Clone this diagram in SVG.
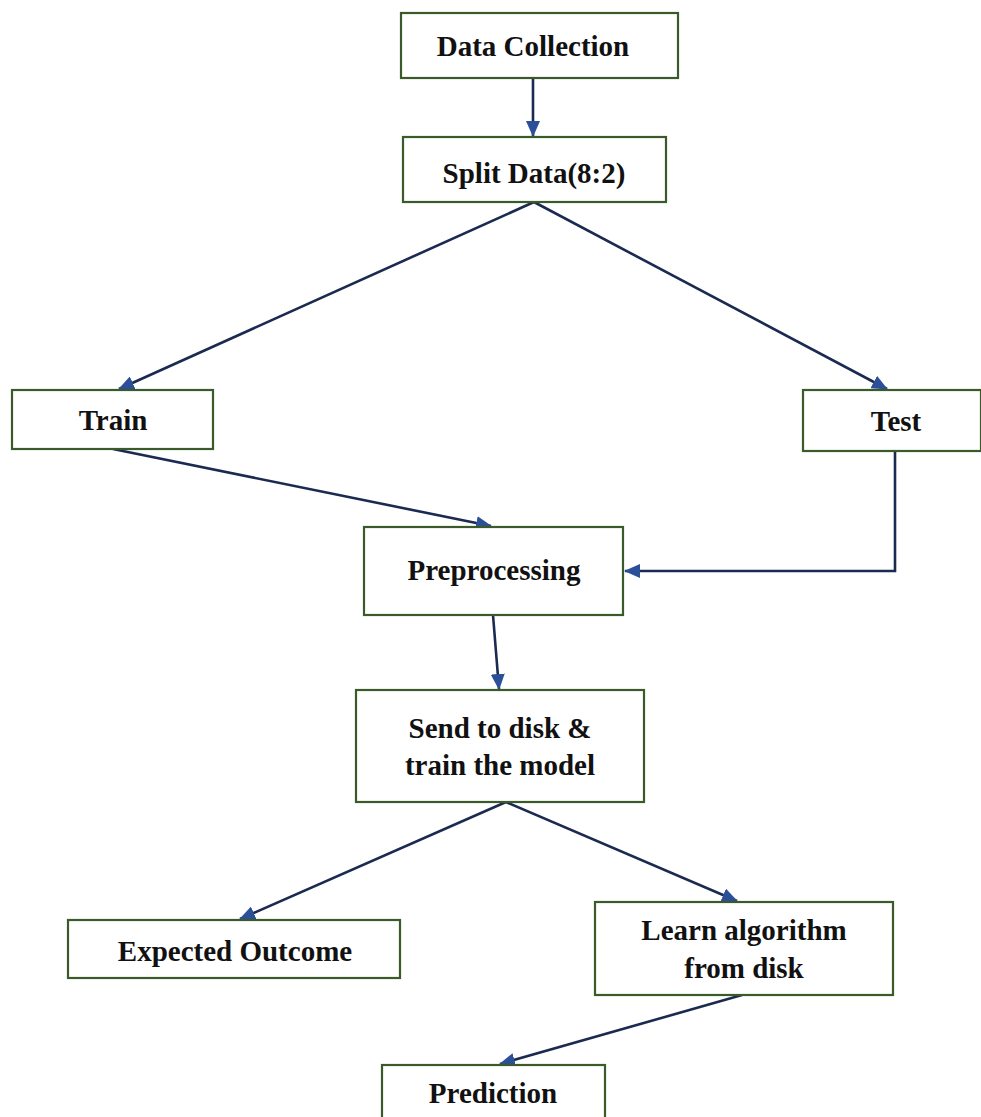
<svg xmlns="http://www.w3.org/2000/svg" width="981" height="1117" viewBox="0 0 981 1117">
  <style>
    .box { fill: #ffffff; stroke: #3b5a2a; stroke-width: 2.2; }
    .lbl { font-family: "Liberation Serif", "Times New Roman", serif; font-weight: bold; font-size: 29px; fill: #111111; text-anchor: middle; }
    .conn { fill: none; stroke: #1b2a50; stroke-width: 2.6; }
  </style>
  <defs>
    <marker id="arrow" markerUnits="userSpaceOnUse" markerWidth="16" markerHeight="14" refX="15" refY="7" orient="auto">
      <path d="M0,0 L16,7 L0,14 Z" fill="#2c4f99"/>
    </marker>
  </defs>
  <rect width="981" height="1117" fill="#ffffff"/>

  <g id="connectors">
    <line class="conn" x1="533" y1="78" x2="533" y2="136" marker-end="url(#arrow)"/>
    <line class="conn" x1="534" y1="202" x2="119" y2="389" marker-end="url(#arrow)"/>
    <line class="conn" x1="534" y1="202" x2="887" y2="389" marker-end="url(#arrow)"/>
    <line class="conn" x1="113" y1="449" x2="491" y2="526" marker-end="url(#arrow)"/>
    <polyline class="conn" points="895,451 895,571 625,571" marker-end="url(#arrow)"/>
    <line class="conn" x1="493" y1="615" x2="499" y2="689" marker-end="url(#arrow)"/>
    <line class="conn" x1="506" y1="802" x2="240" y2="919" marker-end="url(#arrow)"/>
    <line class="conn" x1="506" y1="802" x2="737" y2="901" marker-end="url(#arrow)"/>
    <line class="conn" x1="742" y1="995" x2="500" y2="1064" marker-end="url(#arrow)"/>
  </g>

  <g id="node-data-collection">
    <rect class="box" x="401" y="13" width="277" height="65"/>
    <text class="lbl" x="533" y="56">Data Collection</text>
  </g>
  <g id="node-split-data">
    <rect class="box" x="403" y="137" width="263" height="65"/>
    <text class="lbl" x="534" y="183">Split Data(8:2)</text>
  </g>
  <g id="node-train">
    <rect class="box" x="12" y="390" width="201" height="59"/>
    <text class="lbl" x="113" y="430">Train</text>
  </g>
  <g id="node-test">
    <rect class="box" x="803" y="390" width="178" height="61"/>
    <text class="lbl" x="896" y="431">Test</text>
  </g>
  <g id="node-preprocessing">
    <rect class="box" x="364" y="527" width="259" height="88"/>
    <text class="lbl" x="494" y="580">Preprocessing</text>
  </g>
  <g id="node-send-to-disk">
    <rect class="box" x="356" y="690" width="288" height="112"/>
    <text class="lbl" x="500" y="738">Send to disk &amp;</text>
    <text class="lbl" x="500" y="775">train the model</text>
  </g>
  <g id="node-expected-outcome">
    <rect class="box" x="68" y="920" width="332" height="58"/>
    <text class="lbl" x="235" y="961">Expected Outcome</text>
  </g>
  <g id="node-learn-algorithm">
    <rect class="box" x="595" y="902" width="298" height="93"/>
    <text class="lbl" x="744" y="940">Learn algorithm</text>
    <text class="lbl" x="744" y="978">from disk</text>
  </g>
  <g id="node-prediction">
    <rect class="box" x="382" y="1065" width="223" height="70"/>
    <text class="lbl" x="493" y="1103">Prediction</text>
  </g>
</svg>
